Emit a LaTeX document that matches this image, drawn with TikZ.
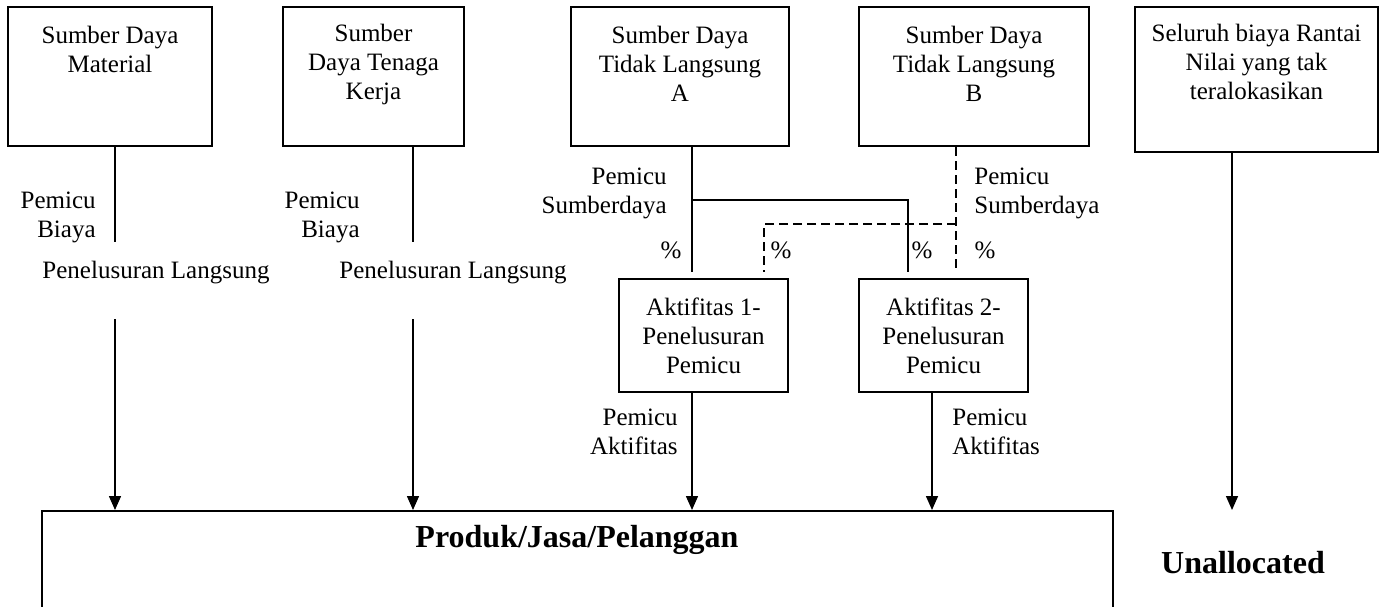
\documentclass[tikz,border=0pt]{standalone}
\usepackage{fontspec}
\setmainfont{Liberation Serif}
\usepackage{tikz}
\usetikzlibrary{arrows.meta}

\tikzset{
	box/.style={draw, line width=1pt, inner sep=0pt},
	txt/.style={font=\fontsize{12.5}{14.5}\selectfont, align=center, inner sep=0pt},
	big/.style={font=\fontsize{16}{19}\selectfont\bfseries, inner sep=0pt},
	cn/.style={line width=0.75pt},
	ds/.style={line width=0.75pt, dash pattern=on 4.5pt off 2.5pt},
	arr/.style={line width=0.75pt, -{Triangle[length=7pt,width=6pt]}}
}

\begin{document}
\begin{tikzpicture}[x=0.5pt,y=-0.5pt]
				\useasboundingbox (0,0) rectangle (1380,606);
				\clip (0,0) rectangle (1380,606);
				
				% sumber daya
				\node[box, minimum width=102pt, minimum height=69.5pt] (matB) at (110,76.5) {};
				\node[box, minimum width=90.5pt, minimum height=69.5pt] (tenB) at (373.5,76.5) {};
				\node[box, minimum width=109pt, minimum height=69.5pt] (indA) at (680,76.5) {};
				\node[box, minimum width=115pt, minimum height=69.5pt] (indB) at (974,76.5) {};
				\node[box, minimum width=121.5pt, minimum height=72.5pt] (allB) at (1256.5,79.5) {};
				
				\node[txt] (matT) at (110,49.5) {Sumber Daya\\Material};
				\node[txt] (tenT) at (373.5,64) {Sumber\\Daya Tenaga\\Kerja};
				\node[txt] (indAT) at (680,64) {Sumber Daya\\Tidak Langsung\\A};
				\node[txt] (indBT) at (974,64) {Sumber Daya\\Tidak Langsung\\B};
				\node[txt] (allT) at (1256.5,62) {Seluruh biaya Rantai\\Nilai yang tak\\teralokasikan};
				
				% aktifitas
				\node[box, minimum width=84.5pt, minimum height=56.5pt] (akt1) at (703.5,335.5) {};
				\node[box, minimum width=84.5pt, minimum height=56.5pt] (akt2) at (943.5,335.5) {};
				\node[txt] (akt1T) at (703.5,335.5) {Aktifitas 1-\\Penelusuran\\Pemicu};
				\node[txt] (akt2T) at (943.5,335.5) {Aktifitas 2-\\Penelusuran\\Pemicu};
				
				% produk
				\node[box, minimum width=535.5pt, minimum height=100pt] (prod) at (577.5,611) {};
				\node[big] (prodT) at (577,540) {Produk/Jasa/Pelanggan};
				\node[big] (unal) at (1243,563) {Unallocated};
				
				% label
				\node[txt, align=right, anchor=east] (pb1) at (96,217) {Pemicu\\Biaya};
				\node[txt, align=right, anchor=east] (pb2) at (360,217) {Pemicu\\Biaya};
				\node[txt] (pl1) at (156,273) {Penelusuran Langsung};
				\node[txt] (pl2) at (453,273) {Penelusuran Langsung};
				\node[txt, align=right, anchor=east] (ps1) at (667,193.5) {Pemicu\\Sumberdaya};
				\node[txt, align=left, anchor=west] (ps2) at (974,193.5) {Pemicu\\Sumberdaya};
				\node[txt] (pc1) at (671,250) {\%};
				\node[txt] (pc2) at (781,250) {\%};
				\node[txt] (pc3) at (922,250) {\%};
				\node[txt] (pc4) at (985,250) {\%};
				\node[txt, align=right, anchor=east] (pa1) at (678,432) {Pemicu\\Aktifitas};
				\node[txt, align=left, anchor=west] (pa2) at (952,432) {Pemicu\\Aktifitas};
				
				\coordinate (m1) at (115,242);
				\coordinate (m2) at (115,319);
				\coordinate (t1) at (413,242);
				\coordinate (t2) at (413,319);
				\coordinate (jA) at (692,200);
				\coordinate (jB) at (908,200);
				\coordinate (dA) at (956,224);
				\coordinate (dB) at (764,224);
				\coordinate (sEnd) at (0,272);
				\coordinate (a2) at (932,392);
				\coordinate (ua) at (1232,152);
				
				\draw[cn] (matB.south -| m1) -- (m1);
				\draw[cn] (tenB.south -| t1) -- (t1);
				\draw[arr] (m2) -- (m2 |- prod.north);
				\draw[arr] (t2) -- (t2 |- prod.north);
				
				\draw[cn] (indA.south -| jA) -- (jA |- sEnd);
				\draw[cn] (jA) -- (jB) -- (jB |- sEnd);
				\draw[ds] (indB.south -| dA) -- (dA |- sEnd);
				\draw[ds] (dA) -- (dB) -- (dB |- sEnd);
				
				\draw[arr] (akt1.south -| jA) -- (jA |- prod.north);
				\draw[arr] (akt2.south -| a2) -- (a2 |- prod.north);
				\draw[arr] (allB.south -| ua) -- (ua |- prod.north);
			\end{tikzpicture}
\end{document}
